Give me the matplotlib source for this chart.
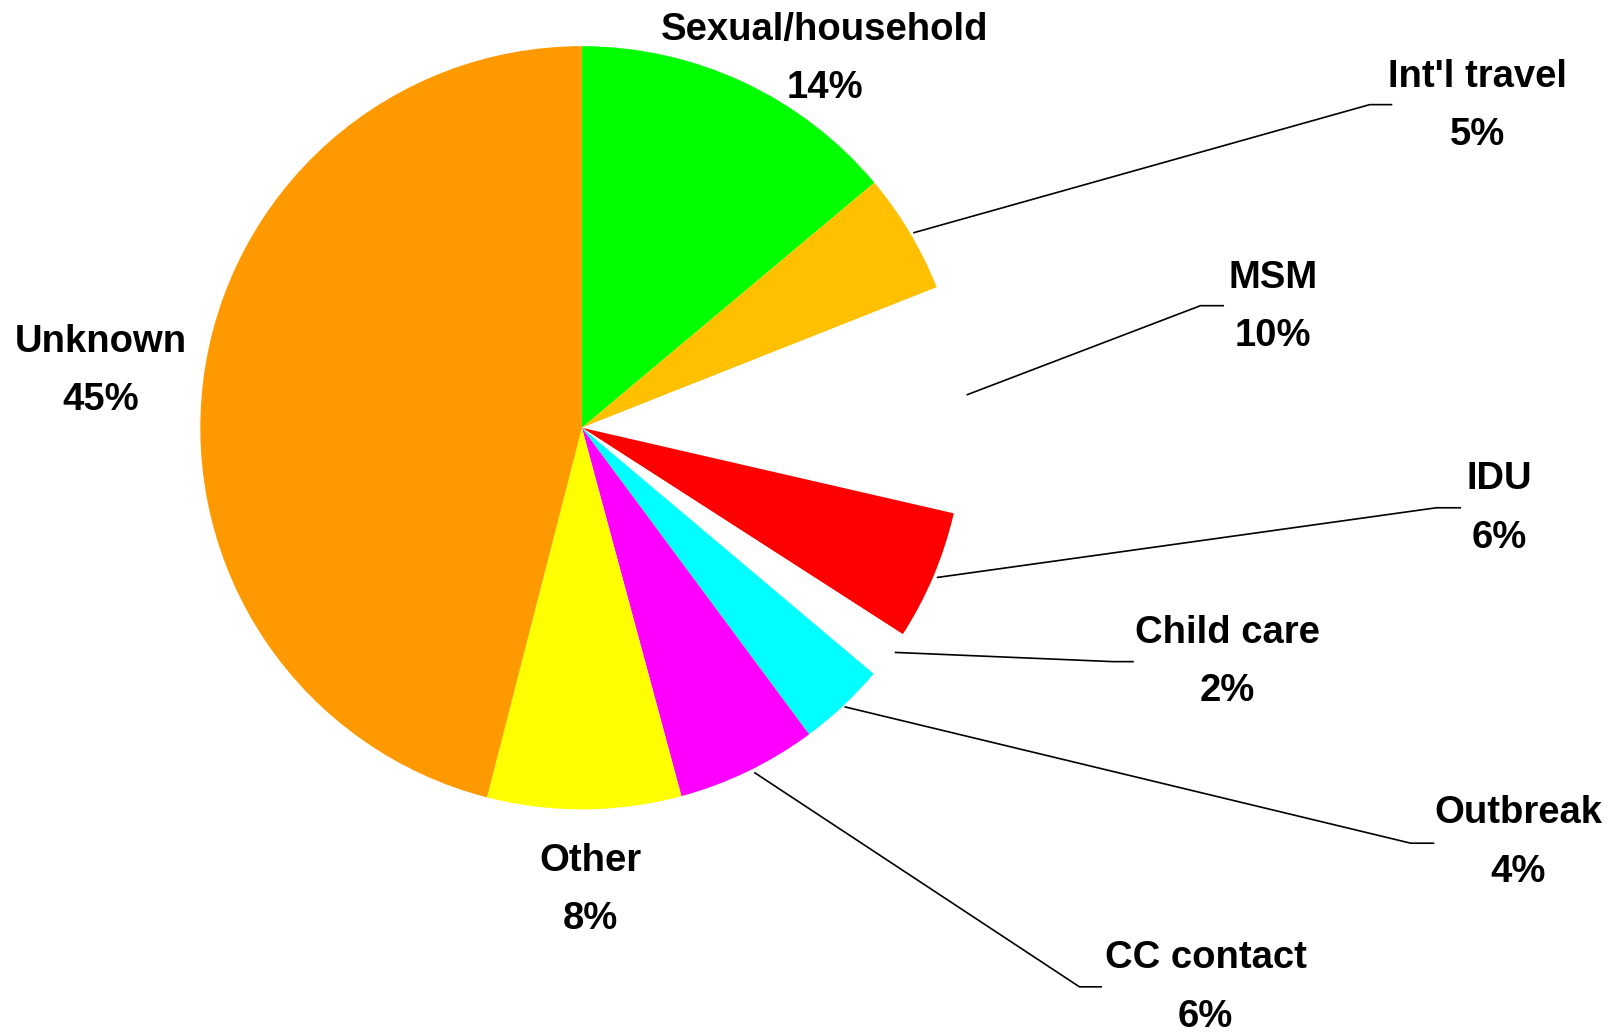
import sys
import matplotlib
matplotlib.use("Agg")
import matplotlib.pyplot as plt
from matplotlib import font_manager

categories = ["Sexual/household", "Int'l travel", "MSM", "IDU", "Child care",
              "Outbreak", "CC contact", "Other", "Unknown"]
values = [13.9, 5.1, 9.6, 5.5, 2.05, 3.7, 5.95, 8.2, 46.0]
pct_labels = ["14%", "5%", "10%", "6%", "2%", "4%", "6%", "8%", "45%"]
colors = ["#00FF00", "#FFC000", "#FFFFFF", "#FF0000", "#FFFFFF",
          "#00FFFF", "#FF00FF", "#FFFF00", "#FF9900"]

names = {f.name for f in font_manager.fontManager.ttflist}
if "Liberation Sans Narrow" in names:
    fam, fsize = ["Liberation Sans Narrow", "DejaVu Sans"], 30
else:
    fam, fsize = ["Liberation Sans", "DejaVu Sans"], 27.5

W, H = 1568, 1008  # layout units (reference shown size)
fig = plt.figure(figsize=(16.09, 10.34), dpi=100)
ax = fig.add_axes([0, 0, 1, 1])


def Y(y):
    return H - y


cx, cy, r = 567, 417, 372
ax.pie(values, colors=colors, startangle=90, counterclock=False,
       center=(cx, Y(cy)), radius=r, frame=True,
       wedgeprops=dict(linewidth=0))
ax.set_xlim(0, W)
ax.set_ylim(0, H)
ax.set_aspect("equal")
ax.axis("off")

# label layout: (x center, y of name line, leader polyline)
layout = [
    (804, 29, None),
    (1440, 75, [(890, 227), (1335, 102), (1357, 102)]),
    (1241, 271, [(942, 385), (1170, 298), (1193, 298)]),
    (1461, 467, [(913, 563), (1400, 495), (1424, 495)]),
    (1196, 617, [(872, 636), (1085, 645), (1105, 645)]),
    (1480, 793, [(823, 689), (1375, 822), (1398, 822)]),
    (1175, 934, [(735, 753), (1052, 962), (1074, 962)]),
    (575, 839, None),
    (98, 333, None),
]

for name, pct, (x, y, leader) in zip(categories, pct_labels, layout):
    ax.text(x, Y(y), name, ha="center", va="center", fontsize=fsize,
            fontweight="bold", family=fam, color="black")
    ax.text(x, Y(y + 57), pct, ha="center", va="center", fontsize=fsize,
            fontweight="bold", family=fam, color="black")
    if leader:
        xs = [p[0] for p in leader]
        ys = [Y(p[1]) for p in leader]
        ax.plot(xs, ys, color="black", lw=1.2, solid_capstyle="butt")

fig.savefig("out.png", dpi=100, facecolor="white")
